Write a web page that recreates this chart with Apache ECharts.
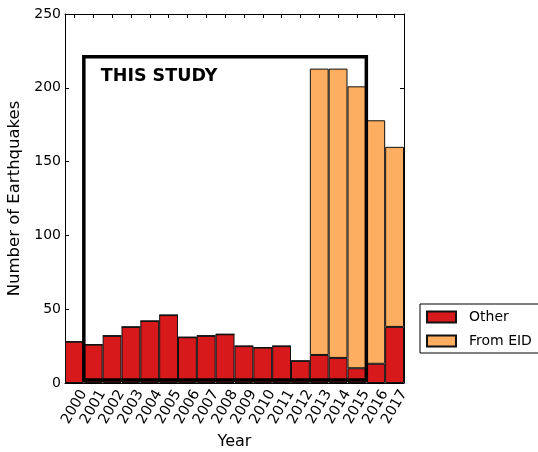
<!DOCTYPE html>
<html>
<head>
<meta charset="utf-8">
<script src="https://cdn.jsdelivr.net/npm/echarts@6/dist/echarts.min.js"></script>
<style>
html,body{margin:0;padding:0;background:#fff;}
#chart{width:538px;height:452px;}
</style>
</head>
<body>
<div id="chart"></div>
<script>
var years = ['2000','2001','2002','2003','2004','2005','2006','2007','2008','2009','2010','2011','2012','2013','2014','2015','2016','2017'];
var otherCounts = [28, 26, 32, 38, 42, 46, 31, 32, 33, 25, 24, 25, 15, 19, 17, 10, 13, 38];
var eidCounts = [0, 0, 0, 0, 0, 0, 0, 0, 0, 0, 0, 0, 0, 194, 196, 191, 165, 122];
var yTicks = [0, 50, 100, 150, 200, 250];
// study window: first and last year index, and lower/upper count of the annotation box
var studyYears = [1, 15];
var studyCounts = [2, 221];

var FONT = 'DejaVu Sans';
var chart = echarts.init(document.getElementById('chart'), null, {renderer: 'canvas'});

var option = {
  backgroundColor: '#fff',
  animation: false,
  textStyle: {fontFamily: FONT, color: '#000'},
  grid: {left: 65, right: 134, top: 14, bottom: 69, containLabel: false, outerBoundsMode: 'none'},
  legend: {
    data: ['Other', 'From EID'],
    orient: 'vertical',
    left: 420, top: 304,
    itemWidth: 29, itemHeight: 11, itemGap: 10,
    padding: [6, 20, 5, 6],
    borderColor: '#000', borderWidth: 1, borderRadius: 0,
    icon: 'rect',
    textStyle: {fontFamily: FONT, fontSize: 14, color: '#000', padding: [0, 0, 0, 8]}
  },
  xAxis: [
    {
      type: 'category', data: years, position: 'bottom',
      boundaryGap: true,
      name: 'Year', nameLocation: 'middle', nameGap: 51,
      nameTextStyle: {fontFamily: FONT, fontSize: 16, color: '#000'},
      axisLine: {show: true, onZero: false, lineStyle: {color: '#000', width: 1}},
      axisTick: {show: true, inside: true, alignWithLabel: true, interval: 0, length: 4, lineStyle: {color: '#000'}},
      axisLabel: {interval: 0, rotate: 60, align: 'center', verticalAlign: 'middle', margin: 24,
                  fontFamily: FONT, fontSize: 14.5, color: '#000'},
      splitLine: {show: false}
    },
    {
      type: 'category', data: years, position: 'top',
      boundaryGap: true,
      axisLine: {show: true, onZero: false, lineStyle: {color: '#000', width: 1}},
      axisTick: {show: true, inside: true, alignWithLabel: true, interval: 0, length: 4, lineStyle: {color: '#000'}},
      axisLabel: {show: false},
      splitLine: {show: false}
    }
  ],
  yAxis: [
    {
      type: 'value', min: 0, max: 250, interval: 50, position: 'left',
      name: 'Number of Earthquakes', nameLocation: 'middle', nameGap: 35,
      nameTextStyle: {fontFamily: FONT, fontSize: 16.5, color: '#000'},
      axisLine: {show: true, onZero: false, lineStyle: {color: '#000', width: 1}},
      axisTick: {show: true, inside: true, length: 4, lineStyle: {color: '#000'}},
      axisLabel: {margin: 4, fontFamily: FONT, fontSize: 14, color: '#000',
                  formatter: function (v) { return yTicks.indexOf(v) >= 0 ? String(v) : ''; }},
      splitLine: {show: false}
    },
    {
      type: 'value', min: 0, max: 250, interval: 50, position: 'right',
      axisLine: {show: true, onZero: false, lineStyle: {color: '#000', width: 1}},
      axisTick: {show: true, inside: true, length: 4, lineStyle: {color: '#000'}},
      axisLabel: {show: false},
      splitLine: {show: false}
    }
  ],
  series: [
    {
      name: 'Other', type: 'bar', stack: 'total', data: otherCounts,
      xAxisIndex: 0, yAxisIndex: 0,
      barCategoryGap: '0%', barGap: '0%',
      itemStyle: {color: '#d7191c', borderColor: '#111', borderWidth: 1}
    },
    {
      name: 'From EID', type: 'bar', stack: 'total', data: eidCounts,
      xAxisIndex: 0, yAxisIndex: 0,
      barCategoryGap: '0%', barGap: '0%',
      itemStyle: {color: '#fdae61', borderColor: '#111', borderWidth: 1}
    },
    {
      name: 'study', type: 'custom', xAxisIndex: 0, yAxisIndex: 0, z: 10,
      clip: false, silent: true,
      data: [[studyYears[0], studyYears[1], studyCounts[0], studyCounts[1]]],
      renderItem: function (params, api) {
        var pTop = api.coord([api.value(0), api.value(3)]);
        var pBot = api.coord([api.value(1), api.value(2)]);
        var band = api.size([1, 0])[0];
        var x0 = pTop[0] - band / 2;
        var x1 = pBot[0] + band / 2;
        var y0 = pTop[1];
        var y1 = pBot[1];
        var textPos = api.coord([api.value(0), 208]);
        return {
          type: 'group',
          children: [
            {type: 'rect', shape: {x: x0, y: y0, width: x1 - x0, height: y1 - y0},
             style: {fill: 'none', stroke: '#000', lineWidth: 3.5}},
            {type: 'text', x: x0 + 17, y: textPos[1],
             style: {text: 'THIS STUDY', fill: '#000', font: 'bold 17.5px "DejaVu Sans"',
                     textAlign: 'left', textVerticalAlign: 'middle'}}
          ]
        };
      }
    }
  ]
};
chart.setOption(option);
</script>
</body>
</html>
